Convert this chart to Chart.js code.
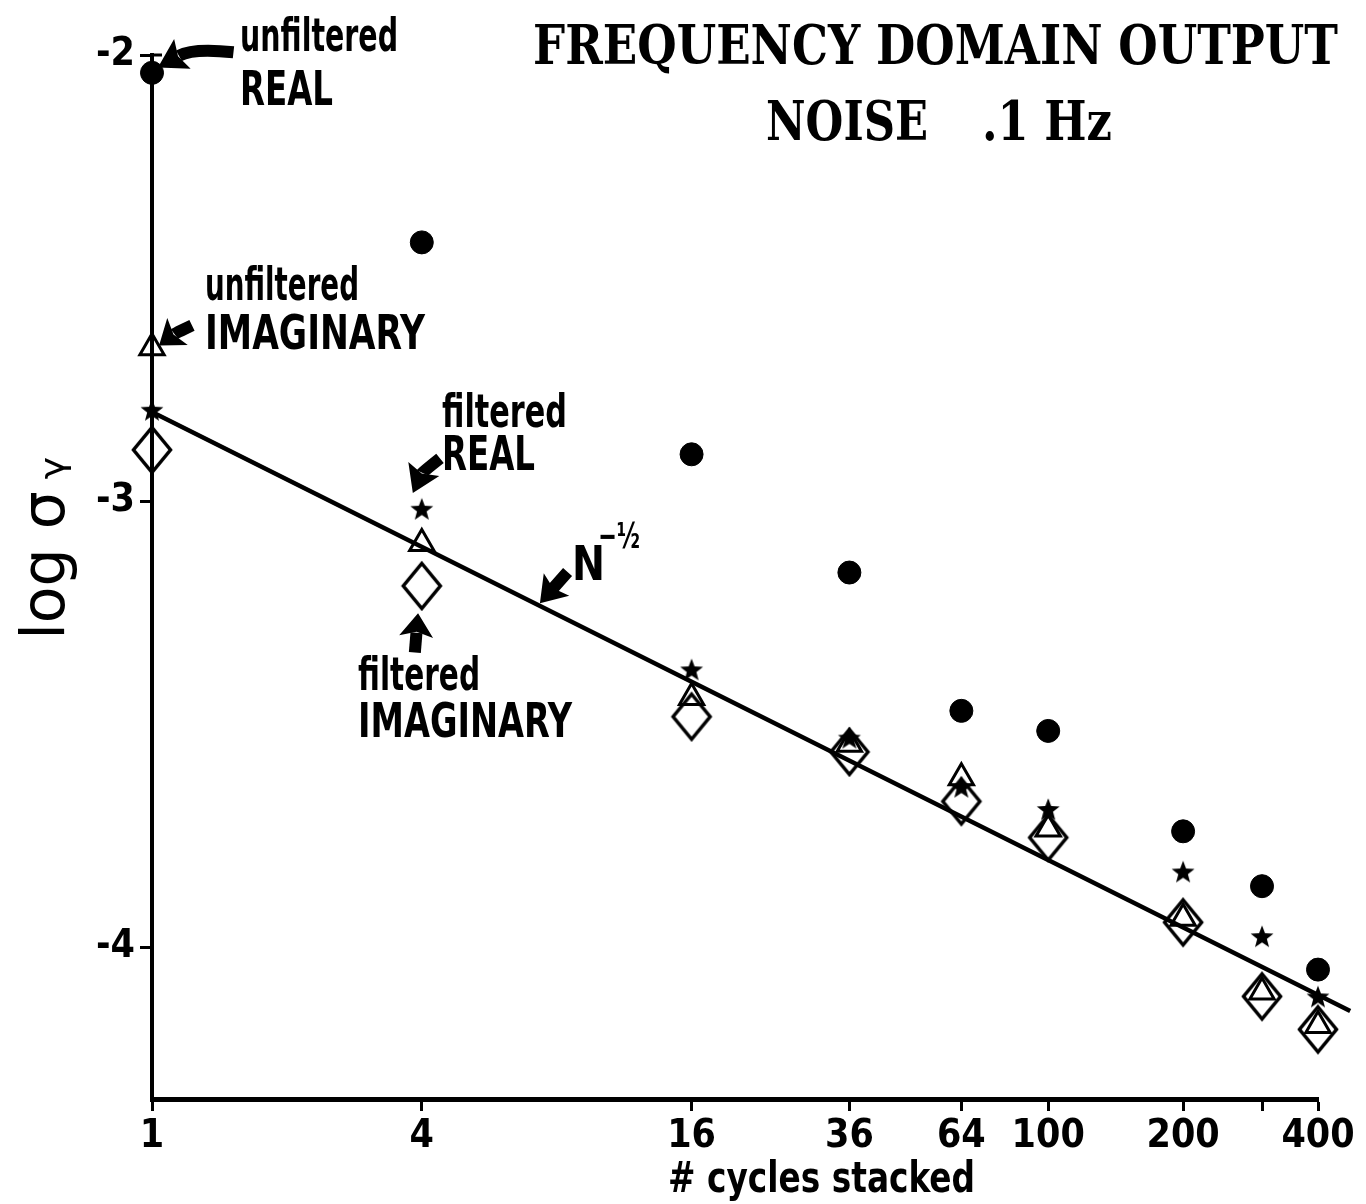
<!DOCTYPE html>
<html>
<head>
<meta charset="utf-8">
<title>Frequency domain output - noise .1 Hz</title>
<script src="https://cdn.jsdelivr.net/npm/chart.js@4.4.1/dist/chart.umd.min.js"></script>
<style>
  html, body { margin: 0; padding: 0; background: #fff; }
  #wrap { width: 1366px; height: 1204px; }
</style>
</head>
<body>
<div id="wrap"><canvas id="chart" width="1366" height="1204"></canvas></div>
<script>
// Values: x = # cycles stacked, y = log sigma
const cycles = [1, 4, 16, 36, 64, 100, 200, 300, 400];
const unfilteredReal = [-2.04, -2.42, -2.895, -3.16, -3.47, -3.515, -3.74, -3.863, -4.05];
const filteredReal   = [-2.795, -3.017, -3.377, -3.53, -3.64, -3.69, -3.83, -3.975, -4.11];
const unfilteredImag = [-2.656, -3.095, -3.44, -3.545, -3.62, -3.735, -3.935, -4.10, -4.175];
const filteredImag   = [-2.885, -3.19, -3.483, -3.562, -3.673, -3.754, -3.944, -4.11, -4.184];

// N^-1/2 reference line (two end points)
const refLineN   = [1, 472];
const refLineLog = [-2.80, -4.143];

const xTickValues = [1, 4, 16, 36, 64, 100, 200, 300, 400];
const xTickLabels = ['1', '4', '16', '36', '64', '100', '200', '', '400'];
const yTickValues = [-2, -3, -4];
const yTickLabels = ['-2', '-3', '-4'];

// Hand-lettered notes, placed in data units [cycles, log sigma]
const noteTexts = [
  { text: 'unfiltered', at: [1.572, -1.990], width: 158, size: 46 },
  { text: 'REAL',       at: [1.572, -2.113], width: 93,  size: 48 },
  { text: 'unfiltered', at: [1.313, -2.550], width: 154, size: 46 },
  { text: 'IMAGINARY',  at: [1.313, -2.660], width: 220, size: 48 },
  { text: 'filtered',   at: [4.438, -2.834], width: 125, size: 46 },
  { text: 'REAL',       at: [4.438, -2.931], width: 93,  size: 48 },
  { text: 'N',          at: [8.656, -3.177], width: 33,  size: 48 },
  { text: '\u2212\u00bd', at: [9.89, -3.106], width: 42, size: 36 },
  { text: 'filtered',   at: [2.883, -3.424], width: 122, size: 46 },
  { text: 'IMAGINARY',  at: [2.883, -3.529], width: 214, size: 48 }
];
const noteArrows = [
  { from: [1.52, -1.994],  to: [1.031, -2.028], bend: 0.16 },
  { from: [1.228, -2.606], to: [1.037, -2.651], bend: 0.05 },
  { from: [4.392, -2.904], to: [3.82, -2.982],  bend: 0.12 },
  { from: [8.46, -3.159],  to: [7.34, -3.229],  bend: 0.0 },
  { from: [3.86, -3.339],  to: [3.924, -3.251], bend: 0.0 }
];

const FONT_HAND = '"DejaVu Sans Condensed", "DejaVu Sans", sans-serif';
const FONT_TITLE = '"DejaVu Serif", "Liberation Serif", serif';

// marker images for the filled star and the tall open diamond
function makeStar(r) {
  const c = document.createElement('canvas');
  const s = Math.ceil(r * 2 + 4);
  c.width = c.height = s;
  const g = c.getContext('2d');
  g.translate(s / 2, s / 2 + r * 0.1);
  g.beginPath();
  for (let i = 0; i < 10; i++) {
    const rad = i % 2 ? r * 0.42 : r;
    const a = -Math.PI / 2 + i * Math.PI / 5;
    g.lineTo(Math.cos(a) * rad, Math.sin(a) * rad);
  }
  g.closePath();
  g.fillStyle = '#000';
  g.fill();
  return c;
}

function makeDiamond(w, h, lw) {
  const c = document.createElement('canvas');
  c.width = Math.ceil(w + lw * 2);
  c.height = Math.ceil(h + lw * 2);
  const g = c.getContext('2d');
  const cx = c.width / 2, cy = c.height / 2;
  g.beginPath();
  g.moveTo(cx, cy - h / 2);
  g.lineTo(cx + w / 2, cy);
  g.lineTo(cx, cy + h / 2);
  g.lineTo(cx - w / 2, cy);
  g.closePath();
  g.lineWidth = lw;
  g.lineJoin = 'miter';
  g.strokeStyle = '#000';
  g.stroke();
  return c;
}

const starImg = makeStar(12);
const diamondImg = makeDiamond(37, 45, 3.5);

function pairs(ys) {
  return cycles.map((n, i) => ({ x: n, y: ys[i] }));
}

function fitText(ctx, text, x, y, width, font) {
  ctx.save();
  ctx.font = font;
  const w = ctx.measureText(text).width;
  ctx.translate(x, y);
  ctx.scale(width / w, 1);
  ctx.fillText(text, 0, 0);
  ctx.restore();
}

// thick tapered arrow with a broad head, as drawn by hand on the figure
function drawArrow(ctx, x0, y0, x1, y1, bend) {
  const dx = x1 - x0, dy = y1 - y0;
  const len = Math.hypot(dx, dy);
  const ux = dx / len, uy = dy / len;
  const mx = (x0 + x1) / 2 - uy * bend * len;
  const my = (y0 + y1) / 2 + ux * bend * len;
  let tx = x1 - mx, ty = y1 - my;
  const tl = Math.hypot(tx, ty);
  tx /= tl; ty /= tl;
  const headL = Math.min(28, len * 0.6), headW = 17;
  const bx = x1 - tx * headL, by = y1 - ty * headL;
  ctx.beginPath();
  ctx.moveTo(x0, y0);
  ctx.quadraticCurveTo(mx, my, bx + tx * 4, by + ty * 4);
  ctx.lineWidth = 12;
  ctx.stroke();
  ctx.beginPath();
  ctx.moveTo(x1, y1);
  ctx.lineTo(bx - ty * headW, by + tx * headW);
  ctx.lineTo(bx + tx * 5, by + ty * 5);
  ctx.lineTo(bx + ty * headW, by - tx * headW);
  ctx.closePath();
  ctx.fill();
}

// titles, notes, arrows and the x axis caption
const notesPlugin = {
  id: 'notes',
  afterDraw(chart) {
    const ctx = chart.ctx;
    const xs = chart.scales.x, ys = chart.scales.y;
    const px = n => xs.getPixelForValue(n);
    const py = v => ys.getPixelForValue(v);
    ctx.save();
    ctx.fillStyle = '#000';
    ctx.strokeStyle = '#000';
    ctx.textBaseline = 'alphabetic';
    ctx.textAlign = 'left';

    // top title
    fitText(ctx, 'FREQUENCY DOMAIN OUTPUT', 533, 64, 805, 'bold 54px ' + FONT_TITLE);
    fitText(ctx, 'NOISE', 766, 140, 162, 'bold 54px ' + FONT_TITLE);
    fitText(ctx, '.1 Hz', 982, 140, 130, 'bold 54px ' + FONT_TITLE);

    noteTexts.forEach(t => {
      fitText(ctx, t.text, px(t.at[0]), py(t.at[1]), t.width, 'bold ' + t.size + 'px ' + FONT_HAND);
    });
    ctx.lineCap = 'butt';
    noteArrows.forEach(a => {
      drawArrow(ctx, px(a.from[0]), py(a.from[1]), px(a.to[0]), py(a.to[1]), a.bend);
    });

    // x axis caption
    fitText(ctx, '# cycles stacked', px(14.18), chart.chartArea.bottom + 93, 307, 'bold 42px ' + FONT_HAND);

    // cap on the -2 tick
    ctx.lineWidth = 3;
    ctx.beginPath();
    ctx.moveTo(xs.left - 2, py(-2));
    ctx.lineTo(xs.left + 10, py(-2));
    ctx.stroke();
    ctx.restore();
  }
};

const tickFont = { family: FONT_HAND, size: 39, weight: 'bold' };

new Chart(document.getElementById('chart'), {
  type: 'scatter',
  data: {
    datasets: [
      {
        label: 'N^-1/2',
        data: refLineN.map((n, i) => ({ x: n, y: refLineLog[i] })),
        showLine: true,
        borderColor: '#000',
        borderWidth: 4.5,
        pointRadius: 0,
        clip: false
      },
      {
        label: 'unfiltered REAL',
        data: pairs(unfilteredReal),
        pointStyle: 'circle',
        pointRadius: 11.5,
        backgroundColor: '#000',
        borderColor: '#000',
        borderWidth: 1,
        clip: false
      },
      {
        label: 'filtered REAL',
        data: pairs(filteredReal),
        pointStyle: starImg,
        pointRadius: 14,
        clip: false
      },
      {
        label: 'unfiltered IMAGINARY',
        data: pairs(unfilteredImag),
        pointStyle: 'triangle',
        pointRadius: 14,
        backgroundColor: 'rgba(0,0,0,0)',
        borderColor: '#000',
        borderWidth: 3,
        clip: false
      },
      {
        label: 'filtered IMAGINARY',
        data: pairs(filteredImag),
        pointStyle: diamondImg,
        pointRadius: 22,
        clip: false
      }
    ]
  },
  options: {
    responsive: false,
    animation: false,
    events: [],
    layout: { padding: { left: 10, right: 48, top: 55, bottom: 0 } },
    plugins: {
      legend: { display: false },
      tooltip: { enabled: false }
    },
    scales: {
      x: {
        type: 'logarithmic',
        min: 1,
        max: 400,
        afterBuildTicks: s => { s.ticks = xTickValues.map(v => ({ value: v })); },
        afterFit: s => { s.height = 105; },
        ticks: {
          autoSkip: false,
          maxRotation: 0,
          minRotation: 0,
          padding: 2,
          color: '#000',
          font: tickFont,
          callback: v => {
            const i = xTickValues.indexOf(v);
            return i < 0 ? '' : xTickLabels[i];
          }
        },
        grid: {
          drawOnChartArea: false,
          drawTicks: true,
          tickLength: 12,
          tickWidth: 3,
          tickColor: '#000'
        },
        border: { display: true, color: '#000', width: 5 }
      },
      y: {
        min: -4.34,
        max: -2,
        afterBuildTicks: s => { s.ticks = yTickValues.map(v => ({ value: v })); },
        afterFit: s => { s.width = 142; },
        ticks: {
          padding: 5,
          color: '#000',
          font: tickFont,
          callback: v => {
            const i = yTickValues.indexOf(v);
            return i < 0 ? '' : yTickLabels[i];
          }
        },
        grid: {
          drawOnChartArea: false,
          drawTicks: true,
          tickLength: 12,
          tickWidth: 3,
          tickColor: '#000'
        },
        border: { display: true, color: '#000', width: 4 },
        title: {
          display: true,
          text: '   log \u03c3\u2009\u1d67',
          color: '#000',
          font: { family: '"DejaVu Sans", sans-serif', size: 60 },
          padding: { top: 2, bottom: 0 }
        }
      }
    }
  },
  plugins: [notesPlugin]
});
</script>
</body>
</html>
